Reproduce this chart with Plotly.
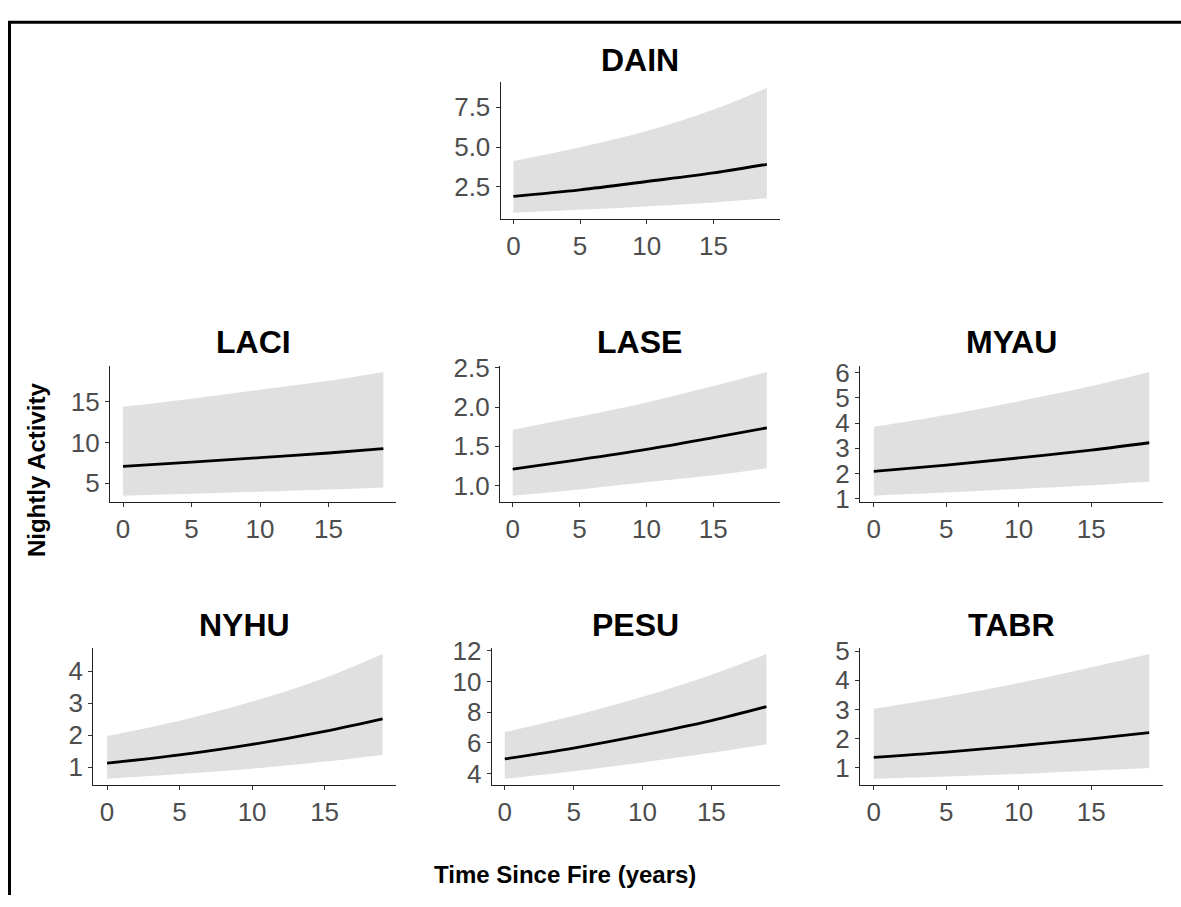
import plotly.graph_objects as go

# ---------------- data ----------------
years = [0, 5, 10, 15, 19]
species = ["DAIN", "LACI", "LASE", "MYAU", "NYHU", "PESU", "TABR"]

fit_DAIN = [1.91, 2.32, 2.84, 3.38, 3.92]
lo_DAIN = [0.89, 1.07, 1.28, 1.53, 1.79]
hi_DAIN = [4.12, 4.98, 6.00, 7.35, 8.70]

fit_LACI = [7.05, 7.57, 8.12, 8.70, 9.24]
lo_LACI = [3.44, 3.68, 3.93, 4.20, 4.45]
hi_LACI = [14.4, 15.4, 16.5, 17.6, 18.7]

fit_LASE = [1.21, 1.33, 1.46, 1.61, 1.735]
lo_LASE = [0.87, 0.95, 1.04, 1.13, 1.22]
hi_LASE = [1.71, 1.88, 2.06, 2.27, 2.45]

fit_MYAU = [2.09, 2.34, 2.62, 2.93, 3.22]
lo_MYAU = [1.13, 1.25, 1.39, 1.54, 1.68]
hi_MYAU = [3.85, 4.32, 4.86, 5.46, 6.02]

fit_NYHU = [1.12, 1.38, 1.71, 2.12, 2.51]
lo_NYHU = [0.63, 0.78, 0.95, 1.17, 1.38]
hi_NYHU = [1.97, 2.45, 3.05, 3.79, 4.54]

fit_PESU = [4.95, 5.66, 6.50, 7.45, 8.36]
lo_PESU = [3.65, 4.15, 4.72, 5.35, 5.90]
hi_PESU = [6.70, 7.77, 9.00, 10.45, 11.8]

fit_TABR = [1.35, 1.53, 1.75, 1.99, 2.20]
lo_TABR = [0.61, 0.69, 0.78, 0.89, 0.98]
hi_TABR = [3.02, 3.44, 3.91, 4.45, 4.91]

ticks_DAIN = [2.5, 5.0, 7.5]
ticks_LACI = [5, 10, 15]
ticks_LASE = [1.0, 1.5, 2.0, 2.5]
ticks_MYAU = [1, 2, 3, 4, 5, 6]
ticks_NYHU = [1, 2, 3, 4]
ticks_PESU = [4, 6, 8, 10, 12]
ticks_TABR = [1, 2, 3, 4, 5]
x_ticks = [0, 5, 10, 15]

series = {
    "DAIN": (fit_DAIN, lo_DAIN, hi_DAIN, ticks_DAIN, ".1f"),
    "LACI": (fit_LACI, lo_LACI, hi_LACI, ticks_LACI, "d"),
    "LASE": (fit_LASE, lo_LASE, hi_LASE, ticks_LASE, ".1f"),
    "MYAU": (fit_MYAU, lo_MYAU, hi_MYAU, ticks_MYAU, "d"),
    "NYHU": (fit_NYHU, lo_NYHU, hi_NYHU, ticks_NYHU, "d"),
    "PESU": (fit_PESU, lo_PESU, hi_PESU, ticks_PESU, "d"),
    "TABR": (fit_TABR, lo_TABR, hi_TABR, ticks_TABR, "d"),
}

# ---------------- layout (pixel boxes of plot areas) ----------------
W, H = 1181, 907
boxes = {
    "DAIN": (500.7, 779.5, 70.7, 211.7, 48),
    "LACI": (110.0, 396.4, 362.7, 502.7, 338),
    "LASE": (500.0, 779.5, 362.7, 502.7, 338),
    "MYAU": (860.0, 1163.0, 362.7, 502.7, 338),
    "NYHU": (93.3, 396.4, 652.7, 794.0, 629),
    "PESU": (491.7, 779.5, 652.7, 794.0, 629),
    "TABR": (860.0, 1163.0, 652.7, 794.0, 629),
}

FONT = "Liberation Sans, Arial, sans-serif"
fig = go.Figure()
layout = dict(
    width=W, height=H,
    margin=dict(l=0, r=0, t=0, b=0),
    paper_bgcolor="white", plot_bgcolor="white",
    showlegend=False,
    font=dict(family=FONT),
)
annotations = []

for i, sp in enumerate(species):
    fit, lo, hi, yt, fmt = series[sp]
    n = "" if i == 0 else str(i + 1)
    xa, ya = "x" + n, "y" + n
    fig.add_trace(go.Scatter(x=years, y=lo, xaxis=xa, yaxis=ya, mode="lines",
                             line=dict(width=0, shape="spline", color="rgba(0,0,0,0)"),
                             hoverinfo="skip"))
    fig.add_trace(go.Scatter(x=years, y=hi, xaxis=xa, yaxis=ya, mode="lines",
                             line=dict(width=0, shape="spline", color="rgba(0,0,0,0)"),
                             fill="tonexty", fillcolor="#e0e0e0", hoverinfo="skip"))
    fig.add_trace(go.Scatter(x=years, y=fit, xaxis=xa, yaxis=ya, mode="lines",
                             line=dict(width=2.8, shape="spline", color="black")))

    x0, x1, y0, y1, ty = boxes[sp]
    ymin, ymax = min(lo), max(hi)
    pad = 0.05 * (ymax - ymin)
    axis_common = dict(
        showline=True, linecolor="#222222", linewidth=1.3,
        ticks="outside", ticklen=4, tickcolor="#333333", tickwidth=1.2,
        showgrid=False, zeroline=False,
        tickfont=dict(family=FONT, size=26, color="#4d4d4d"),
    )
    layout["xaxis" + n] = dict(
        domain=[x0 / W, x1 / W], anchor=ya, range=[-0.95, 19.95],
        tickvals=x_ticks, **axis_common)
    layout["yaxis" + n] = dict(
        domain=[1 - y1 / H, 1 - y0 / H], anchor=xa, range=[ymin - pad, ymax + pad],
        tickvals=yt, tickformat=fmt, ticklabelstandoff=0, **axis_common)
    annotations.append(dict(
        text="<b>%s</b>" % sp, x=(x0 + x1) / 2 / W, y=1 - ty / H,
        xref="paper", yref="paper", xanchor="center", yanchor="middle",
        showarrow=False, font=dict(family=FONT, size=32, color="black")))

annotations.append(dict(
    text="<b>Time Since Fire (years)</b>", x=565 / W, y=1 - 886 / H,
    xref="paper", yref="paper", xanchor="center", yanchor="middle",
    showarrow=False, font=dict(family=FONT, size=24, color="black")))
annotations.append(dict(
    text="<b>Nightly Activity</b>", x=36 / W, y=1 - 470 / H, textangle=-90,
    xref="paper", yref="paper", xanchor="center", yanchor="middle",
    showarrow=False, font=dict(family=FONT, size=24, color="black")))

layout["annotations"] = annotations
layout["shapes"] = [
    dict(type="line", xref="paper", yref="paper",
         x0=9.5 / W, x1=9.5 / W, y0=0, y1=1 - 9.5 / H,
         line=dict(color="black", width=3)),
    dict(type="line", xref="paper", yref="paper",
         x0=8 / W, x1=1, y0=1 - 9.5 / H, y1=1 - 9.5 / H,
         line=dict(color="black", width=3)),
]
fig.update_layout(**layout)
fig.write_html(
    "out.html",
    config={"displayModeBar": False},
    post_script="document.body.style.margin='0px';document.body.style.overflow='hidden';",
)
